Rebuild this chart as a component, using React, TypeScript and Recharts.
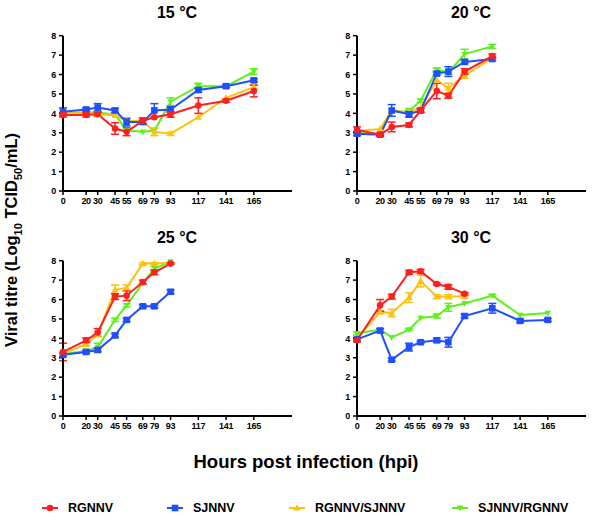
import React from 'react';
import { LineChart, Line, XAxis, YAxis, ErrorBar } from 'recharts';

const HOURS = [0, 20, 30, 45, 55, 69, 79, 93, 117, 141, 165];
const Y_TICKS = [0, 1, 2, 3, 4, 5, 6, 7, 8];
const TEMPS = ['15 °C', '20 °C', '25 °C', '30 °C'];
const STRAINS = ['RGNNV', 'SJNNV', 'RGNNV/SJNNV', 'SJNNV/RGNNV'];

// 15 °C
const RG_15 = [3.92, 3.92, 3.95, 3.22, 3.05, 3.62, 3.8, 3.95, 4.4, 4.65, 5.15];
const RG_15_SD = [0.1, 0.1, 0.1, 0.3, 0.2, 0.15, null, 0.15, 0.4, 0.08, 0.3];
const SJ_15 = [4.08, 4.2, 4.3, 4.15, 3.55, 3.55, 4.15, 4.2, 5.2, 5.4, 5.7];
const SJ_15_SD = [0.2, 0.08, 0.2, 0.1, 0.2, 0.1, 0.35, 0.15, 0.1, 0.08, 0.08];
const RS_15 = [4.0, 4.0, 3.95, 3.9, 3.6, 3.6, 3.05, 2.95, 3.8, 4.8, 5.35];
const RS_15_SD = [null, null, null, null, null, null, 0.2, 0.08, null, null, 0.1];
const SR_15 = [4.02, 4.05, 4.05, 3.95, 3.12, 3.05, 3.1, 4.6, 5.4, 5.4, 6.15];
const SR_15_SD = [null, null, null, null, null, null, null, 0.2, 0.15, 0.05, 0.15];

// 20 °C
const RG_20 = [3.15, 2.9, 3.3, 3.4, 4.15, 5.15, 4.9, 6.15, 6.95];
const RG_20_SD = [0.15, 0.08, 0.25, 0.1, 0.1, 0.4, 0.12, 0.15, 0.1];
const SJ_20 = [2.95, 2.9, 4.15, 3.95, 4.15, 6.05, 6.15, 6.65, 6.8];
const SJ_20_SD = [0.1, 0.05, 0.3, 0.15, 0.08, 0.08, 0.25, 0.1, 0.08];
const RS_20 = [3.08, 3.2, 4.15, 4.05, 4.3, 5.7, 5.3, 5.95, 6.85];
const RS_20_SD = [null, null, null, null, null, null, 0.25, 0.15, null];
const SR_20 = [3.0, 2.92, 4.1, 4.1, 4.65, 6.25, 6.1, 7.05, 7.45];
const SR_20_SD = [null, null, null, 0.15, 0.08, 0.08, 0.1, 0.25, 0.1];

// 25 °C
const RG_25 = [3.3, 3.9, 4.3, 6.15, 6.2, 6.9, 7.4, 7.85];
const RG_25_SD = [0.45, 0.12, 0.2, 0.15, 0.25, 0.1, 0.12, 0.05];
const SJ_25 = [3.15, 3.3, 3.4, 4.15, 4.95, 5.65, 5.65, 6.4];
const SJ_25_SD = [0.08, 0.08, 0.1, 0.1, 0.08, 0.08, 0.08, 0.1];
const RS_25 = [3.2, 3.7, 4.2, 6.5, 6.6, 7.85, 7.85, 7.9];
const RS_25_SD = [null, 0.1, null, 0.25, 0.15, 0.05, 0.05, null];
const SR_25 = [3.2, 3.35, 3.55, 4.95, 5.7, 6.85, 7.6, 7.95];
const SR_25_SD = [null, null, 0.2, 0.08, 0.08, null, 0.1, null];

// 30 °C
const RG_30 = [3.9, 5.7, 6.15, 7.4, 7.45, 6.8, 6.65, 6.3];
const RG_30_SD = [0.08, 0.3, 0.12, 0.1, 0.1, 0.05, 0.12, 0.05];
const SJ_30 = [3.95, 4.4, 2.9, 3.55, 3.8, 3.9, 3.8, 5.15, 5.55, 4.9, 4.95];
const SJ_30_SD = [0.08, 0.1, 0.08, 0.2, 0.05, 0.1, 0.25, 0.1, 0.25, 0.08, 0.08];
const RS_30 = [4.0, 5.35, 5.3, 6.1, 6.95, 6.15, 6.15, 6.15];
const RS_30_SD = [null, 0.05, 0.2, 0.25, 0.3, 0.1, 0.1, 0.05];
const SR_30 = [4.25, 4.45, 4.05, 4.45, 5.05, 5.15, 5.6, 5.8, 6.2, 5.2, 5.3];
const SR_30_SD = [0.08, null, null, 0.05, null, 0.1, 0.2, null, 0.05, null, null];

const COLORS = ['#ff1f1f', '#1f4fff', '#ffc10f', '#5ef01a'];
const SHAPES = ['circle', 'square', 'triangle', 'triDown'];
const FONT = '"Liberation Sans", Arial, sans-serif';

const PANELS = [
  { title: TEMPS[0], left: 28, top: 25, series: [[RG_15, RG_15_SD], [SJ_15, SJ_15_SD], [RS_15, RS_15_SD], [SR_15, SR_15_SD]] },
  { title: TEMPS[1], left: 322, top: 25, series: [[RG_20, RG_20_SD], [SJ_20, SJ_20_SD], [RS_20, RS_20_SD], [SR_20, SR_20_SD]] },
  { title: TEMPS[2], left: 28, top: 250, series: [[RG_25, RG_25_SD], [SJ_25, SJ_25_SD], [RS_25, RS_25_SD], [SR_25, SR_25_SD]] },
  { title: TEMPS[3], left: 322, top: 250, series: [[RG_30, RG_30_SD], [SJ_30, SJ_30_SD], [RS_30, RS_30_SD], [SR_30, SR_30_SD]] },
];

const toRows = (vals: number[], sd: (number | null)[]) =>
  vals.map((v, i) => ({ x: HOURS[i], y: v, err: sd[i] == null ? undefined : sd[i] }));

const Marker = ({ cx, cy, shape, color }: any) => {
  if (cx == null || cy == null) return null;
  if (shape === 'circle') return <circle cx={cx} cy={cy} r={3.3} fill={color} />;
  if (shape === 'square') return <rect x={cx - 3.3} y={cy - 3.3} width={6.6} height={6.6} fill={color} />;
  if (shape === 'triangle')
    return <polygon points={`${cx},${cy - 3.8} ${cx + 3.6},${cy + 2.6} ${cx - 3.6},${cy + 2.6}`} fill={color} />;
  return <polygon points={`${cx},${cy + 3.4} ${cx + 3.2},${cy - 2.4} ${cx - 3.2},${cy - 2.4}`} fill={color} />;
};

const tickStyle = { fontSize: 9, fontWeight: 700, fill: '#000', fontFamily: FONT, letterSpacing: -0.3 };

const Panel = ({ panel }: any) => {
  const order = [3, 2, 1, 0];
  return (
    <div style={{ position: 'absolute', left: panel.left, top: panel.top }}>
      <LineChart width={266} height={191} margin={{ top: 10.7, right: 2, bottom: 0, left: 0 }}>
        <XAxis
          type="number"
          dataKey="x"
          domain={[0, 198]}
          ticks={HOURS}
          interval={0}
          height={25}
          tickSize={4}
          tickMargin={3}
          stroke="#000"
          axisLine={{ strokeWidth: 2 }}
          tickLine={{ strokeWidth: 1.5 }}
          tick={tickStyle}
          allowDuplicatedCategory={false}
        />
        <YAxis
          type="number"
          domain={[0, 8]}
          ticks={Y_TICKS}
          interval={0}
          width={35}
          tickSize={4}
          tickMargin={3}
          stroke="#000"
          axisLine={{ strokeWidth: 2 }}
          tickLine={{ strokeWidth: 1.5 }}
          tick={tickStyle}
        />
        {order.map((s) => {
          const [vals, sd] = panel.series[s];
          return (
            <Line
              key={STRAINS[s]}
              data={toRows(vals, sd)}
              dataKey="y"
              type="linear"
              stroke={COLORS[s]}
              strokeWidth={2}
              isAnimationActive={false}
              dot={(p: any) => <Marker key={`${s}-${p.index}`} cx={p.cx} cy={p.cy} shape={SHAPES[s]} color={COLORS[s]} />}
              activeDot={false}
            >
              <ErrorBar dataKey="err" direction="y" width={4} stroke={COLORS[s]} strokeWidth={1.5} />
            </Line>
          );
        })}
      </LineChart>
      <div
        style={{
          position: 'absolute',
          left: 35,
          width: 228,
          top: -21,
          textAlign: 'center',
          fontFamily: FONT,
          fontWeight: 700,
          fontSize: 16,
          lineHeight: '18px',
        }}
      >
        {panel.title}
      </div>
    </div>
  );
};

const LegendItem = ({ i }: { i: number }) => (
  <div style={{ display: 'flex', alignItems: 'center' }}>
    <svg width={18} height={10}>
      <line x1={1} y1={5} x2={17} y2={5} stroke={COLORS[i]} strokeWidth={2} />
      <Marker cx={9} cy={5} shape={SHAPES[i]} color={COLORS[i]} />
    </svg>
    <span style={{ marginLeft: 9, fontFamily: FONT, fontWeight: 700, fontSize: 12.5 }}>{STRAINS[i]}</span>
  </div>
);

export default function App() {
  return (
    <div style={{ position: 'absolute', left: 0, top: 0, width: 600, height: 522, background: '#fff', overflow: 'hidden' }}>
      {PANELS.map((p) => (
        <Panel key={p.title} panel={p} />
      ))}
      <div
        style={{
          position: 'absolute',
          left: 13,
          top: 240,
          transform: 'translate(-50%, -50%) rotate(-90deg)',
          whiteSpace: 'nowrap',
          fontFamily: FONT,
          fontWeight: 700,
          fontSize: 16.5,
        }}
      >
        Viral titre (Log<sub style={{ fontSize: 11 }}>10</sub> TCID<sub style={{ fontSize: 11 }}>50</sub>/mL)
      </div>
      <div
        style={{
          position: 'absolute',
          left: 0,
          width: 612,
          top: 451,
          textAlign: 'center',
          fontFamily: FONT,
          fontWeight: 700,
          fontSize: 18.5,
        }}
      >
        Hours post infection (hpi)
      </div>
      <div style={{ position: 'absolute', top: 501, left: 41, display: 'flex' }}>
        <div style={{ width: 125 }}><LegendItem i={0} /></div>
        <div style={{ width: 122 }}><LegendItem i={1} /></div>
        <div style={{ width: 163 }}><LegendItem i={2} /></div>
        <div><LegendItem i={3} /></div>
      </div>
    </div>
  );
}
